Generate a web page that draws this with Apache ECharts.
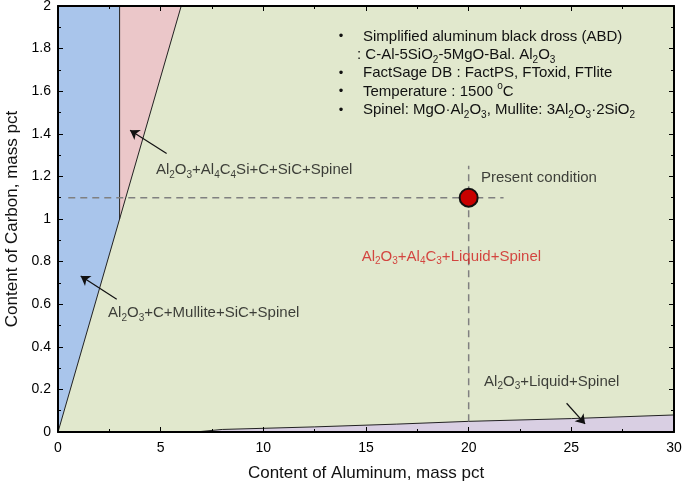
<!DOCTYPE html>
<html>
<head>
<meta charset="utf-8">
<script src="https://cdn.jsdelivr.net/npm/echarts@6/dist/echarts.min.js"></script>
<style>html,body{margin:0;padding:0;background:#fff}#c{width:685px;height:489px}</style>
</head>
<body>
<div id="c"></div>
<script>
// ---- data ----
const xTicks = [0, 5, 10, 15, 20, 25, 30];
const yTicks = [0, 0.2, 0.4, 0.6, 0.8, 1, 1.2, 1.4, 1.6, 1.8, 2];
const fullArea = [[0, 0], [30, 0], [30, 2], [0, 2]];
const blueRegion = [[0, 0], [3, 1], [3, 2], [0, 2]];
const redRegion = [[3, 1], [6, 2], [3, 2]];
const purpleBoundary = [[6.7, 0], [8, 0.012], [12.5, 0.024], [16.5, 0.037], [20, 0.05], [25, 0.063], [30, 0.08]];
const purpleRegion = purpleBoundary.concat([[30, 0]]);
const slantBoundary = [[0, 0], [3, 1], [6, 2]];
const verticalBoundary = [[3, 1], [3, 2]];
const presentPoint = [[20, 1.1]];
const hDash = [[0.5, 1.1], [21.7, 1.1]];
const vDash = [[20, 0.05], [20, 1.25]];
const arrows = [
  [[5.29, 1.308], [3.51, 1.417]],
  [[2.86, 0.623], [1.105, 0.732]],
  [[24.77, 0.135], [25.67, 0.038]]
];
const phaseLabels = [
  { pos: [4.77, 1.23], text: 'Al{s|2}O{s|3}+Al{s|4}C{s|4}Si+C+SiC+Spinel', color: '#111' },
  { pos: [2.44, 0.559], text: 'Al{s|2}O{s|3}+C+Mullite+SiC+Spinel', color: '#111' },
  { pos: [14.79, 0.823], text: 'Al{sr|2}O{sr|3}+Al{sr|4}C{sr|3}+Liquid+Spinel', color: '#d01c1c' },
  { pos: [20.6, 1.192], text: 'Present condition', color: '#111' },
  { pos: [20.75, 0.236], text: 'Al{s|2}O{s|3}+Liquid+Spinel', color: '#111' }
];
const notes = [
  { bullet: true, text: 'Simplified aluminum black dross (ABD)' },
  { bullet: false, text: ': C-Al-5SiO{s|2}-5MgO-Bal. Al{s|2}O{s|3}' },
  { bullet: true, text: 'FactSage DB : FactPS, FToxid, FTlite' },
  { bullet: true, text: 'Temperature : 1500 {sup|o}C' },
  { bullet: true, text: 'Spinel: MgO·Al{s|2}O{s|3}, Mullite: 3Al{s|2}O{s|3}·2SiO{s|2}' }
];
const regions = [
  { pts: fullArea, color: '#e1e8cd' },
  { pts: blueRegion, color: '#a9c5eb' },
  { pts: redRegion, color: '#ebc7c9' },
  { pts: purpleRegion, color: '#d9cfe3' }
];

const FONT = '"Liberation Sans", Arial, Helvetica, sans-serif';
const rich = {
  s: { fontSize: 10, lineHeight: 12, verticalAlign: 'bottom', fontFamily: FONT, color: '#111' },
  sr: { fontSize: 10, lineHeight: 12, verticalAlign: 'bottom', fontFamily: FONT, color: '#d01c1c' },
  sup: { fontSize: 10, lineHeight: 12, verticalAlign: 'top', fontFamily: FONT, color: '#111' }
};

const chart = echarts.init(document.getElementById('c'), null, { renderer: 'canvas' });

function axisCommon(extra) {
  return Object.assign({
    type: 'value',
    z: 10,
    axisLine: { show: true, onZero: false, lineStyle: { color: '#000', width: 2 } },
    axisTick: { show: true, inside: true, length: 5, lineStyle: { color: '#000', width: 1 } },
    minorTick: { show: true, splitNumber: 2, length: 3, lineStyle: { color: '#000', width: 1 } },
    splitLine: { show: false },
    minorSplitLine: { show: false }
  }, extra);
}

const series = [];
series.push({
  type: 'custom',
  z: 1,
  silent: true,
  data: regions.map((r, i) => i),
  renderItem: function (params, api) {
    const r = regions[params.dataIndex];
    return {
      type: 'polygon',
      shape: { points: r.pts.map(p => api.coord(p)) },
      style: { fill: r.color }
    };
  }
});
[slantBoundary, verticalBoundary, purpleBoundary].forEach(b => {
  series.push({
    type: 'line', z: 3, data: b, symbol: 'none', silent: true,
    lineStyle: { color: '#222', width: 1 }
  });
});
[hDash, vDash].forEach(d => {
  series.push({
    type: 'line', z: 3, data: d, symbol: 'none', silent: true,
    lineStyle: { color: '#808080', width: 1.5, type: [7, 5] }
  });
});
series.push({
  type: 'scatter', z: 5, data: arrows.map(a => a[0]), symbolSize: 0, silent: true,
  markLine: {
    silent: true, animation: false,
    symbol: ['none', 'arrow'], symbolSize: 9,
    label: { show: false },
    lineStyle: { color: '#111', width: 1.2, type: 'solid' },
    data: arrows.map(a => [{ coord: a[0] }, { coord: a[1] }])
  }
});
series.push({
  type: 'scatter', z: 20, data: presentPoint, symbolSize: 18, silent: true,
  itemStyle: { color: '#c80000', borderColor: '#111', borderWidth: 2, opacity: 1 }
});
phaseLabels.forEach(l => {
  series.push({
    type: 'scatter', z: 7, data: [l.pos], symbolSize: 0, silent: true,
    label: {
      show: true, position: 'right', distance: 0,
      formatter: l.text, fontSize: 15, lineHeight: 20, fontFamily: FONT, color: l.color, rich: rich
    }
  });
});

const graphics = [];
const noteY = [36.7, 55, 73.3, 91.7, 110];
notes.forEach((n, i) => {
  if (n.bullet) {
    graphics.push({ type: 'text', z: 20, style: { text: '•', x: 341, y: noteY[i], fontSize: 13, fontFamily: FONT, fill: '#111', align: 'center', verticalAlign: 'middle' } });
  }
  graphics.push({
    type: 'text', z: 20,
    style: {
      text: n.text, x: n.bullet ? 363 : 357, y: noteY[i], fontSize: 15, lineHeight: 20,
      fontFamily: FONT, fill: '#111', verticalAlign: 'middle', rich: rich
    }
  });
});

chart.setOption({
  animation: false,
  grid: { left: 58, right: 11, top: 6, bottom: 57, containLabel: false, outerBoundsMode: 'none' },
  xAxis: [
    axisCommon({
      position: 'bottom', min: 0, max: 30, interval: 5,
      name: 'Content of Aluminum, mass pct', nameLocation: 'middle', nameGap: 33,
      nameTextStyle: { fontSize: 17, fontFamily: FONT, color: '#111' },
      axisLabel: { fontSize: 14, fontFamily: FONT, color: '#000', margin: 9 }
    }),
    axisCommon({ position: 'top', min: 0, max: 30, interval: 5, axisLabel: { show: false } })
  ],
  yAxis: [
    axisCommon({
      position: 'left', min: 0, max: 2, interval: 0.2,
      name: 'Content of Carbon, mass pct', nameLocation: 'middle', nameGap: 33,
      nameTextStyle: { fontSize: 17, fontFamily: FONT, color: '#111' },
      axisLabel: { fontSize: 14, fontFamily: FONT, color: '#000', margin: 7 }
    }),
    axisCommon({ position: 'right', min: 0, max: 2, interval: 0.2, axisLabel: { show: false } })
  ],
  series: series,
  graphic: graphics
});
</script>
</body>
</html>
